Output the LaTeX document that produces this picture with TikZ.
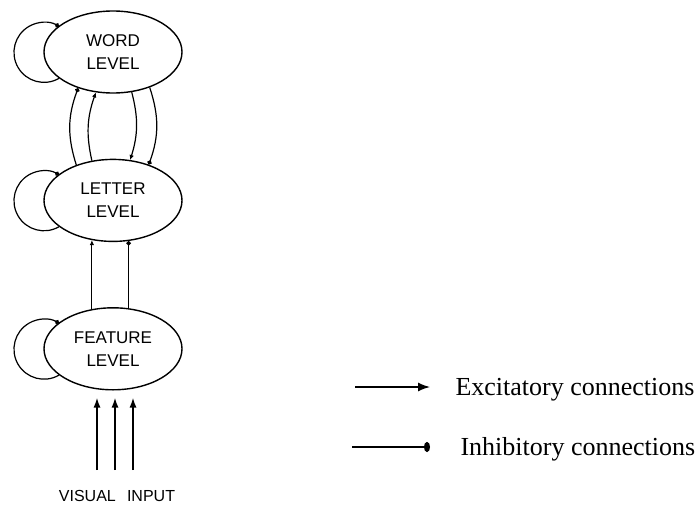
\documentclass[tikz,border=0pt]{standalone}
\usepackage{fontspec}
\setmainfont{Liberation Serif}
\setsansfont{Liberation Sans}
\usetikzlibrary{arrows.meta,positioning,shapes.geometric}

\begin{document}
\begin{tikzpicture}[x=1pt, y=1pt, node distance=65pt,
        level/.style={ellipse,draw,line width=1.4pt,fill=white,minimum width=138pt,
          minimum height=82pt,inner sep=0pt,align=center,font=\sffamily\fontsize{17}{23}\selectfont},
        exc/.style={-{Latex[length=5pt,width=4.5pt]},line width=1.2pt},
        inh/.style={-{Circle[length=4.5pt]},line width=1.2pt},
        selfloop/.style={inh},
        inp/.style={-{Latex[length=10pt,width=7pt]},line width=1.7pt},
        excleg/.style={-{Latex[length=12pt,width=9pt]},line width=1.4pt},
        inhleg/.style={-{Ellipse[length=6pt,width=10pt]},line width=1.4pt},
        legend/.style={font=\fontsize{26}{30}\selectfont,anchor=base west}]
        \useasboundingbox (0,0) rectangle (696,-506);
        \node[level] (word) at (113,-52) {WORD\\LEVEL};
        \node[level,below=of word] (letter) {LETTER\\LEVEL};
        \node[level,below=of letter] (feature) {FEATURE\\LEVEL};
        \foreach \lv in {word,letter,feature}
          \draw[selfloop] (\lv.206) arc[start angle=-60,end angle=-300,radius=30pt];
        \draw[inh] (letter.136) to[bend left=19] (word.226);
        \draw[exc] (letter.118) to[bend left=16] (word.247);
        \draw[exc] (word.295) to[bend left=16] (letter.67);
        \draw[inh] (word.316) to[bend left=19] (letter.45);
        \draw[exc] (feature.118) -- (letter.242);
        \draw[inh] (feature.69) -- (letter.291);
        \node[font=\sffamily\fontsize{16}{20}\selectfont,anchor=base] (input) at (117,-501)
          {VISUAL\hspace{0.7em}INPUT};
        \foreach \vx [count=\i] in {97,115,133} {
          \coordinate (v\i) at (\vx,-470);
          \draw[inp,shorten >=7pt] (v\i) -- (v\i |- feature.south);
        }
        \coordinate (e1) at (355,-387);
        \coordinate (e2) at (430,-387);
        \draw[excleg] (e1) -- (e2);
        \node[legend] (exclabel) at (452,-395) {Excitatory connections};
        \coordinate (i1) at (352,-447);
        \coordinate (i2) at (430,-447);
        \draw[inhleg] (i1) -- (i2);
        \node[legend] (inhlabel) at (457,-455) {Inhibitory connections};
      \end{tikzpicture}
\end{document}
